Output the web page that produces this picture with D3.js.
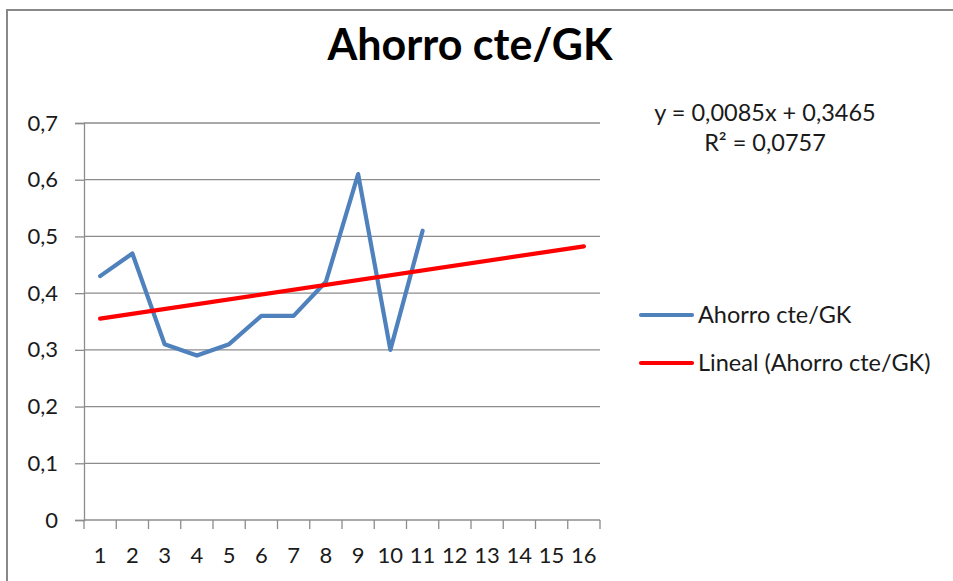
<!DOCTYPE html>
<html>
<head>
<meta charset="utf-8">
<script src="https://cdn.jsdelivr.net/npm/d3@7"></script>
<style>
  html, body { margin: 0; padding: 0; background: #fff; }
  svg { display: block; font-family: Lato, "Open Sans", sans-serif; }
</style>
</head>
<body>
<svg id="chart" width="953" height="581"></svg>
<script>
// data
const categories = d3.range(1, 17)
const seriesName = 'Ahorro cte/GK'
const trendName = 'Lineal (Ahorro cte/GK)'
const ahorro = [0.43, 0.47, 0.31, 0.29, 0.31, 0.36, 0.36, 0.42, 0.61, 0.30, 0.51]
const trendSlope = 0.0085
const trendIntercept = 0.3465
const trendR2 = 0.0757
const yTicks = [0, 0.1, 0.2, 0.3, 0.4, 0.5, 0.6, 0.7]

const svg = d3.select('#chart')
const fmt = (v, d) => d3.format(`.${d}f`)(v).replace('.', ',')
const grid = '#8c8c8c'
const ink = '#1a1a1a'

// chart frame
svg.append('path')
  .attr('d', 'M7,581 V10 H953')
  .attr('fill', 'none').attr('stroke', '#888').attr('stroke-width', 2)

const x = d3.scaleBand().domain(categories).range([84, 600])
const y = d3.scaleLinear().domain([0, 0.7]).range([520, 123])
const cx = c => x(c) + x.bandwidth() / 2

// gridlines
svg.append('g').selectAll('line').data(yTicks.filter(t => t > 0)).join('line')
  .attr('x1', x.range()[0]).attr('x2', x.range()[1])
  .attr('y1', d => y(d)).attr('y2', d => y(d))
  .attr('stroke', grid).attr('stroke-width', 1.3)

// y axis
const yAxis = svg.append('g').attr('transform', `translate(${x.range()[0]},0)`)
  .call(d3.axisLeft(y).tickValues(yTicks).tickSize(9).tickPadding(17)
    .tickFormat(d => d === 0 ? '0' : fmt(d, 1)))
yAxis.select('.domain').attr('stroke', grid).attr('stroke-width', 1.3)
yAxis.selectAll('.tick line').attr('stroke', grid).attr('stroke-width', 1.3)
yAxis.selectAll('.tick text').attr('font-size', 22).attr('fill', ink)
  .attr('font-family', 'Lato, sans-serif')

// x axis, ticks between categories
const xAxisG = svg.append('g').attr('transform', `translate(0,${y(0)})`)
xAxisG.append('line').attr('x1', x.range()[0]).attr('x2', x.range()[1])
  .attr('stroke', grid).attr('stroke-width', 1.3)
const edges = categories.map(c => x(c)).concat([x.range()[1]])
xAxisG.selectAll('.tk').data(edges).join('line')
  .attr('x1', d => d).attr('x2', d => d)
  .attr('y1', 0).attr('y2', 9)
  .attr('stroke', grid).attr('stroke-width', 1.3)
xAxisG.selectAll('text').data(categories).join('text')
  .attr('x', d => cx(d)).attr('y', 43)
  .attr('text-anchor', 'middle').attr('font-size', 22).attr('fill', ink)
  .text(d => d)

// series line
const line = d3.line().x(d => cx(d[0])).y(d => y(d[1]))
svg.append('path')
  .datum(ahorro.map((v, i) => [categories[i], v]))
  .attr('d', line)
  .attr('fill', 'none').attr('stroke', '#4f81bd').attr('stroke-width', 4.2)
  .attr('stroke-linejoin', 'round').attr('stroke-linecap', 'round')

// linear trendline across all categories
const trendPts = [categories[0], categories[categories.length - 1]]
  .map(c => [c, trendSlope * c + trendIntercept])
svg.append('path')
  .datum(trendPts)
  .attr('d', line)
  .attr('fill', 'none').attr('stroke', '#ff0000').attr('stroke-width', 4.2)
  .attr('stroke-linecap', 'round')

// title
svg.append('text').attr('x', 470).attr('y', 60)
  .attr('text-anchor', 'middle').attr('font-size', 43).attr('font-weight', 'bold')
  .attr('fill', '#000').text(seriesName)

// trendline equation
svg.append('text').attr('x', 765).attr('y', 121)
  .attr('text-anchor', 'middle').attr('font-size', 23.5).attr('fill', ink)
  .text(`y = ${fmt(trendSlope, 4)}x + ${fmt(trendIntercept, 4)}`)
svg.append('text').attr('x', 765).attr('y', 151)
  .attr('text-anchor', 'middle').attr('font-size', 23.5).attr('fill', ink)
  .text(`R² = ${fmt(trendR2, 4)}`)

// legend
const items = [{ name: seriesName, color: '#4f81bd' }, { name: trendName, color: '#ff0000' }]
const legend = svg.append('g')
items.forEach((it, i) => {
  const ly = 315 + i * 48
  legend.append('line').attr('x1', 641).attr('x2', 692).attr('y1', ly).attr('y2', ly)
    .attr('stroke', it.color).attr('stroke-width', 4.2).attr('stroke-linecap', 'round')
  legend.append('text').attr('x', 698).attr('y', ly).attr('dy', '0.35em')
    .attr('font-size', 23.5).attr('fill', ink).text(it.name)
})
</script>
</body>
</html>
